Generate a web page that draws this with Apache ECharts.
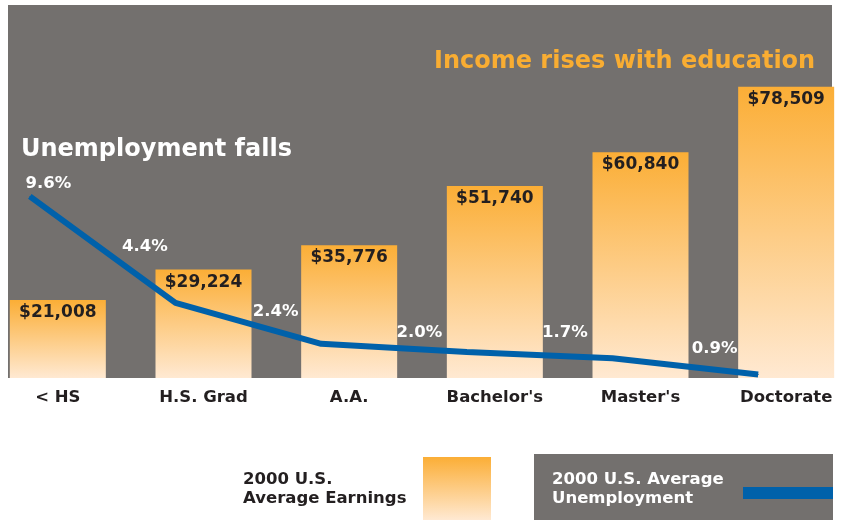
<!DOCTYPE html>
<html>
<head>
<meta charset="utf-8">
<title>Income and unemployment by education</title>
<script src="https://cdn.jsdelivr.net/npm/echarts@6/dist/echarts.min.js"></script>
<style>
  html, body { margin: 0; padding: 0; background: #fff; }
  #main { width: 853px; height: 520px; }
</style>
</head>
<body>
<div id="main"></div>
<script>
// 数据
var categories = ['< HS', 'H.S. Grad', 'A.A.', "Bachelor's", "Master's", 'Doctorate'];
var earnings = [21008, 29224, 35776, 51740, 60840, 78509];
var unemployment = [9.6, 4.4, 2.4, 2.0, 1.7, 0.9];

// label offsets for the % labels (relative to each line point)
var pctLabelPos = [[19, -12], [-30, -56], [-45, -32], [-47, -19], [-47, -25], [-43, -25]];

var GRAY = '#73706e';
var DARK = '#231f20';
var BLUE = '#0061aa';
var FONT = '"DejaVu Sans", sans-serif';

function orangeGrad() {
  return new echarts.graphic.LinearGradient(0, 0, 0, 1, [
    { offset: 0, color: '#fbae36' },
    { offset: 1, color: '#ffe9d2' }
  ]);
}

var myChart = echarts.init(document.getElementById('main'));

var option = {
  backgroundColor: '#fff',
  animation: false,
  grid: [
    { left: -15, right: -6, top: 7, bottom: 142, outerBoundsMode: 'none', containLabel: false },
    { left: -43, right: 22, top: 4, bottom: 127, outerBoundsMode: 'none', containLabel: false }
  ],
  xAxis: [
    {
      type: 'category', gridIndex: 0, data: categories,
      axisLine: { show: false }, axisTick: { show: false },
      axisLabel: { color: DARK, fontSize: 16.5, fontWeight: 'bold', fontFamily: FONT, margin: 11 }
    },
    { type: 'category', gridIndex: 1, data: categories, show: false }
  ],
  yAxis: [
    { type: 'value', gridIndex: 0, min: 0, max: 100000, show: false },
    { type: 'value', gridIndex: 1, min: 0, max: 19, show: false }
  ],
  graphic: [
    // 灰色背景
    { type: 'rect', z: -10, shape: { x: 8, y: 5, width: 824, height: 373 }, style: { fill: GRAY } },
    // 标题
    {
      type: 'text', z: 10,
      style: {
        x: 434, y: 62, text: 'Income rises with education', fill: '#f9ad32',
        font: 'bold 24px ' + FONT, verticalAlign: 'middle'
      }
    },
    {
      type: 'text', z: 10,
      style: {
        x: 21, y: 150, text: 'Unemployment falls', fill: '#fff',
        font: 'bold 24px ' + FONT, verticalAlign: 'middle'
      }
    },
    // legend: earnings
    {
      type: 'text',
      style: {
        x: 243, y: 470, text: '2000 U.S.\nAverage Earnings', fill: DARK,
        font: 'bold 16.5px ' + FONT, lineHeight: 19, verticalAlign: 'top'
      }
    },
    { type: 'rect', shape: { x: 423, y: 457, width: 68, height: 63 }, style: { fill: orangeGrad() } },
    // legend: unemployment
    { type: 'rect', shape: { x: 534, y: 454, width: 299, height: 66 }, style: { fill: GRAY } },
    {
      type: 'text',
      style: {
        x: 552, y: 470, text: '2000 U.S. Average\nUnemployment', fill: '#fff',
        font: 'bold 16.5px ' + FONT, lineHeight: 19, verticalAlign: 'top'
      }
    },
    { type: 'rect', shape: { x: 743, y: 487, width: 90, height: 12 }, style: { fill: BLUE } }
  ],
  series: [
    {
      name: '2000 U.S. Average Earnings',
      type: 'bar', xAxisIndex: 0, yAxisIndex: 0,
      data: earnings, barWidth: 96,
      itemStyle: { color: orangeGrad() },
      label: {
        show: true, position: 'insideTop', distance: 4,
        color: DARK, fontSize: 17, fontWeight: 'bold', fontFamily: FONT,
        formatter: function (p) { return '$' + p.value.toLocaleString('en-US'); }
      }
    },
    {
      name: '2000 U.S. Average Unemployment',
      type: 'line', xAxisIndex: 1, yAxisIndex: 1,
      data: unemployment.map(function (v, i) {
        return { value: v, label: { position: pctLabelPos[i] } };
      }),
      symbol: 'circle', symbolSize: 1,
      itemStyle: { color: BLUE },
      lineStyle: { color: BLUE, width: 6, cap: 'butt' },
      label: {
        show: true, color: '#fff', fontSize: 16.5, fontWeight: 'bold', fontFamily: FONT,
        align: 'center', verticalAlign: 'middle',
        formatter: function (p) { return p.value.toFixed(1) + '%'; }
      },
      z: 5
    }
  ]
};

myChart.setOption(option);
</script>
</body>
</html>
